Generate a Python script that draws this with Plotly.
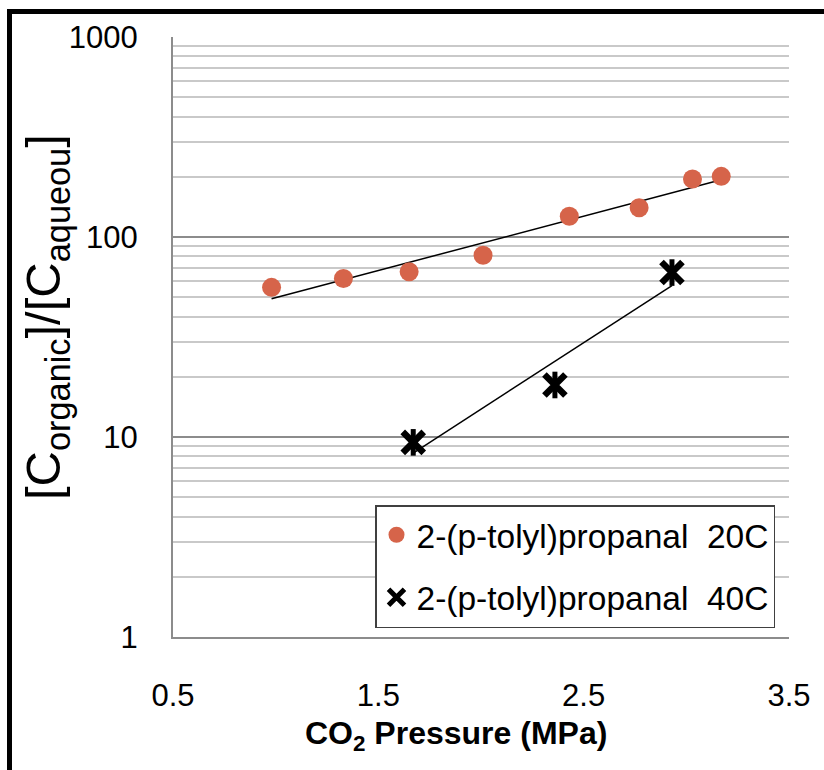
import numpy as np
import plotly.graph_objects as go

# ---- data ----
p20 = [0.98, 1.33, 1.65, 2.01, 2.43, 2.77, 3.03, 3.17]
k20 = [56, 62, 67, 81, 127, 140, 195, 201]
p40 = [1.67, 2.36, 2.93]
k40 = [9.4, 18.2, 66.4]
name20 = "2-(p-tolyl)propanal\u00a0 20C"
name40 = "2-(p-tolyl)propanal\u00a0 40C"
x_ticks = [0.5, 1.5, 2.5, 3.5]
y_ticks = [1, 10, 100, 1000]

W, H = 824, 770
L, R, T, B = 173, 35, 37, 133
PW, PH = W - L - R, H - T - B


def px(xp):
    return (xp - L) / PW


def py(yp):
    return (H - B - yp) / PH


def exp_trend(x, y):
    b, a = np.polyfit(np.array(x), np.log10(np.array(y)), 1)
    xs = np.array([min(x), max(x)])
    return xs, 10 ** (a + b * xs)


FONT = "Liberation Sans, Arial, sans-serif"
ORANGE = "#D6644A"

fig = go.Figure()

tx, ty = exp_trend(p20, k20)
fig.add_trace(go.Scatter(x=tx, y=ty, mode="lines", line=dict(color="black", width=1.5),
                         showlegend=False, hoverinfo="skip"))
tx, ty = exp_trend(p40, k40)
fig.add_trace(go.Scatter(x=tx, y=ty, mode="lines", line=dict(color="black", width=1.5),
                         showlegend=False, hoverinfo="skip"))

fig.add_trace(go.Scatter(x=p20, y=k20, mode="markers", name=name20, legendgroup="a",
                         marker=dict(symbol="circle", size=19, color=ORANGE, line=dict(width=0))))
fig.add_trace(go.Scatter(x=p40, y=k40, mode="markers", name=name40, legendgroup="b",
                         marker=dict(symbol="x-thin-open", size=21, color="black",
                                     line=dict(width=6.5, color="black"))))
fig.add_trace(go.Scatter(x=p40, y=k40, mode="markers", showlegend=False, legendgroup="b",
                         marker=dict(symbol="line-ns-open", size=19, color="black",
                                     line=dict(width=5, color="black"))))

minor_vals = [m * 10 ** k for k in range(3) for m in range(2, 10)]

fig.update_xaxes(range=[0.5, 3.5], tickvals=x_ticks, ticktext=[str(v) for v in x_ticks],
                 showgrid=False, zeroline=False, showline=True, linecolor="#8c8c8c", linewidth=2,
                 ticks="", ticklabelstandoff=30,
                 tickfont=dict(family=FONT, size=31, color="black"))
fig.update_yaxes(type="log", range=[0, 3], tickvals=y_ticks, ticktext=[str(v) for v in y_ticks],
                 showgrid=True, gridcolor="#8c8c8c", gridwidth=1.5,
                 minor=dict(tickvals=minor_vals, showgrid=True, gridcolor="#c9c9c9", gridwidth=1.5,
                            ticks=""),
                 zeroline=False, showline=True, linecolor="#8c8c8c", linewidth=2,
                 ticks="", ticklabelstandoff=27,
                 tickfont=dict(family=FONT, size=31, color="black"))

fig.add_annotation(text="[C<sub>organic</sub>]/[C<sub>aqueou</sub>]", textangle=-90,
                   xref="paper", yref="paper", x=px(46), y=py(317), xanchor="center", yanchor="middle",
                   showarrow=False, font=dict(family=FONT, size=49, color="black"))
fig.add_annotation(text="<b>CO<sub>2</sub> Pressure (MPa)</b>",
                   xref="paper", yref="paper", x=px(455.5), y=py(735), xanchor="center", yanchor="middle",
                   showarrow=False, font=dict(family=FONT, size=32, color="black"))

fig.add_shape(type="rect", xref="paper", yref="paper",
              x0=px(9.5), x1=px(830), y0=py(800), y1=py(11.5),
              line=dict(color="black", width=5), fillcolor="rgba(0,0,0,0)", layer="above")

fig.update_layout(
    width=W, height=H,
    margin=dict(l=L, r=R, t=T, b=B, pad=0),
    paper_bgcolor="white", plot_bgcolor="white",
    font=dict(family=FONT, color="black"),
    legend=dict(x=px(375), y=py(505), xanchor="left", yanchor="top",
                bgcolor="white", bordercolor="#404040", borderwidth=1.5,
                font=dict(family=FONT, size=33.5, color="black"),
                traceorder="grouped", tracegroupgap=16),
)

fig.write_html("out.html")
